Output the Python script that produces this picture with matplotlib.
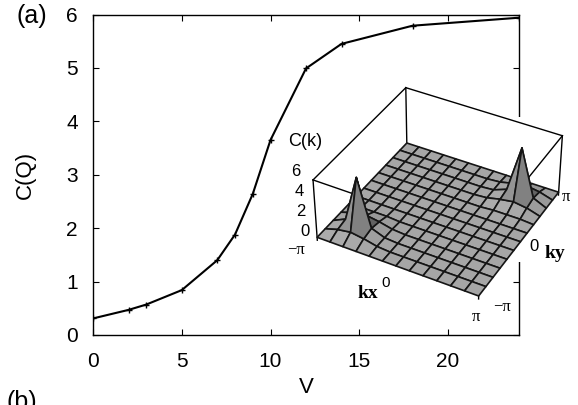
import numpy as np
import matplotlib
matplotlib.use('Agg')
import matplotlib.pyplot as plt
from matplotlib.patches import Rectangle
from mpl_toolkits.mplot3d import proj3d

# ---------------- data ----------------
V = [0, 2, 3, 5, 7, 8, 9, 10, 12, 14, 18, 24]
CQ = [0.31, 0.47, 0.57, 0.84, 1.40, 1.88, 2.64, 3.65, 4.99, 5.45, 5.79, 5.94]
x_ticks = [0, 5, 10, 15, 20]
y_ticks = [0, 1, 2, 3, 4, 5, 6]

# inset: C(k) on a 13x13 k-grid from -pi to pi (rows: kx, columns: ky)
Ck = [
    [0.3, 0.3, 0.3, 0.3, 0.3, 0.3, 0.3, 0.3, 0.3, 0.3, 0.3, 0.3, 0.3],
    [0.3, 0.7, 0.9, 0.7, 0.4, 0.3, 0.3, 0.3, 0.3, 0.3, 0.3, 0.3, 0.3],
    [0.3, 0.9, 5.5, 0.9, 0.4, 0.3, 0.3, 0.3, 0.3, 0.3, 0.3, 0.3, 0.3],
    [0.3, 0.7, 0.9, 0.7, 0.4, 0.3, 0.3, 0.3, 0.3, 0.3, 0.3, 0.3, 0.3],
    [0.3, 0.4, 0.4, 0.4, 0.3, 0.3, 0.3, 0.3, 0.3, 0.3, 0.3, 0.3, 0.3],
    [0.3, 0.3, 0.3, 0.3, 0.3, 0.3, 0.3, 0.3, 0.3, 0.3, 0.3, 0.3, 0.3],
    [0.3, 0.3, 0.3, 0.3, 0.3, 0.3, 0.3, 0.3, 0.3, 0.3, 0.3, 0.3, 0.3],
    [0.3, 0.3, 0.3, 0.3, 0.3, 0.3, 0.3, 0.3, 0.3, 0.3, 0.3, 0.3, 0.3],
    [0.3, 0.3, 0.3, 0.3, 0.3, 0.3, 0.3, 0.3, 0.3, 0.4, 0.4, 0.4, 0.3],
    [0.3, 0.3, 0.3, 0.3, 0.3, 0.3, 0.3, 0.3, 0.4, 0.7, 0.9, 0.7, 0.3],
    [0.3, 0.3, 0.3, 0.3, 0.3, 0.3, 0.3, 0.3, 0.4, 0.9, 5.5, 0.9, 0.3],
    [0.3, 0.3, 0.3, 0.3, 0.3, 0.3, 0.3, 0.3, 0.4, 0.7, 0.9, 0.7, 0.3],
    [0.3, 0.3, 0.3, 0.3, 0.3, 0.3, 0.3, 0.3, 0.3, 0.3, 0.3, 0.3, 0.3],
]
z_ticks = [0, 2, 4, 6]

plt.rcParams['font.family'] = ['Liberation Sans', 'DejaVu Sans']
W, H = 578, 405
fig = plt.figure(figsize=(W / 100, H / 100), dpi=100)


def fx(px):
    return px / W


def fy(py):
    return 1 - py / H


# ---------------- main axes ----------------
ax = fig.add_axes([fx(93), fy(335), (519 - 93) / W, (335 - 14.5) / H])
ax.plot(V, CQ, color='k', lw=1.5, marker='+', ms=4, mew=1)
ax.set_xlim(0, 24)
ax.set_ylim(0, 6)
ax.set_xticks(x_ticks)
ax.set_yticks(y_ticks)
ax.tick_params(direction='in', top=True, right=True, length=4, width=0.8,
               labelsize=15)
ax.tick_params(axis='x', pad=12)
ax.tick_params(axis='y', pad=11)
for s in ax.spines.values():
    s.set_linewidth(1.0)
ax.set_xlabel('V', fontsize=16, va='top')
ax.xaxis.set_label_coords(0.5, -(377 - 335) / 320.5)
ax.set_ylabel('C(Q)', fontsize=16, va='center')
ax.yaxis.set_label_coords(-(93 - 25) / 426, 0.5)
fig.text(fx(16), fy(16), '(a)', fontsize=18, va='center', ha='left')
fig.text(fx(7), fy(390), '(b)', fontsize=18, va='top', ha='left')

# white area where the inset covers the right spine
fig.add_artist(Rectangle((fx(512), fy(262)), 14 / W, (262 - 117) / H,
                         transform=fig.transFigure, fc='white', ec='none',
                         zorder=1))

# ---------------- inset 3D ----------------
ax3 = fig.add_axes([fx(250), fy(340), 320 / W, 320 / H], projection='3d',
                   computed_zorder=False)
ax3.set_zorder(2)
ax3.set_axis_off()
ax3.patch.set_visible(False)
ax3.set_box_aspect((1, 1, 0.42))
pi = np.pi
ax3.set_xlim(-pi, pi)
ax3.set_ylim(-pi, pi)
ax3.set_zlim(0, 6)
ax3.set_proj_type('persp', focal_length=1.0)
ax3.view_init(elev=38, azim=-61.5)

k = np.linspace(-pi, pi, len(Ck))
KX, KY = np.meshgrid(k, k, indexing='ij')
Z = np.array(Ck)

# face shading (light from upper left)
dk = k[1] - k[0]
zfac = (0.42 / 6) / (1 / (2 * pi))
gx = ((Z[1:, :-1] + Z[1:, 1:]) - (Z[:-1, :-1] + Z[:-1, 1:])) / (2 * dk) * zfac
gy = ((Z[:-1, 1:] + Z[1:, 1:]) - (Z[:-1, :-1] + Z[1:, :-1])) / (2 * dk) * zfac
nrm = np.stack([-gx, -gy, np.ones_like(gx)], axis=-1)
nrm /= np.linalg.norm(nrm, axis=-1, keepdims=True)
light = np.array([-0.2, -0.35, 0.91])
light /= np.linalg.norm(light)
dot = np.clip(nrm @ light, 0, None) / light[2]
inten = np.clip(0.6 + 0.4 * dot, 0, 1.1)
gray = 0.65 * inten
fc = np.ones(Z.shape + (4,))
fc[:-1, :-1, 0] = gray
fc[:-1, :-1, 1] = gray
fc[:-1, :-1, 2] = gray

# box edges (drawn under the surface)
edges = [
    ((-pi, -pi, 0), (-pi, -pi, 6)), ((-pi, pi, 0), (-pi, pi, 6)),
    ((pi, pi, 0), (pi, pi, 6)), ((pi, -pi, 0), (pi, -pi, 6)),
    ((-pi, -pi, 6), (-pi, pi, 6)), ((-pi, pi, 6), (pi, pi, 6)),
    ((pi, pi, 6), (pi, -pi, 6)), ((pi, -pi, 6), (-pi, -pi, 6)),
]
for a, b in edges:
    ax3.plot([a[0], b[0]], [a[1], b[1]], [a[2], b[2]], color='k', lw=1.0,
             zorder=0.5)
ax3.plot_surface(KX, KY, Z, facecolors=fc, edgecolor='#151515',
                 linewidth=1.2, shade=False, rstride=1, cstride=1, zorder=1)

# place the inset box where the reference has it
targets = {  # fig px (x, y from top)
    (-pi, -pi, 0): (315.7, 237.3), (pi, -pi, 0): (482, 301.7),
    (pi, pi, 0): (553.7, 188), (-pi, pi, 0): (408, 148),
    (-pi, -pi, 6): (307, 176), (-pi, pi, 6): (408, 95),
    (pi, pi, 6): (561, 135), (pi, -pi, 6): (487, 240),
}
P3 = np.array(list(targets.keys()))
Q = np.array(list(targets.values()))
Q[:, 1] = H - Q[:, 1]

fig.canvas.draw()
M = ax3.get_proj()
xs, ys, _ = proj3d.proj_transform(P3[:, 0], P3[:, 1], P3[:, 2], M)
p = ax3.transData.transform(np.column_stack([xs, ys]))
pm, qm = p.mean(0), Q.mean(0)
s = ((p - pm) * (Q - qm)).sum() / ((p - pm) ** 2).sum()
t = qm - s * pm
pos = ax3.get_position()
o = np.array([pos.x0 * W, pos.y0 * H])
size = pos.width * W
o2 = t + s * o
ax3.set_position([o2[0] / W, o2[1] / H, s * size / W, s * size / H])

# inset labels
fig.text(fx(305), fy(141), 'C(k)', fontsize=13, ha='center', va='center')
zt_pos = {6: (296, 171), 4: (299, 191.5), 2: (301, 211.5), 0: (305, 231.5)}
for zt in z_ticks:
    px, py = zt_pos[zt]
    fig.text(fx(px), fy(py), str(zt), fontsize=12, ha='center', va='center')
ser = ['Liberation Serif', 'DejaVu Serif']
fig.text(fx(296), fy(250), '\u2212\u03c0', fontsize=12, ha='center',
         va='center', family=ser)
fig.text(fx(368), fy(293), 'kx', fontsize=14, ha='center', va='center',
         family=ser, weight='bold')
fig.text(fx(386), fy(283), '0', fontsize=11, ha='center', va='center')
fig.text(fx(476), fy(317), '\u03c0', fontsize=12, ha='center', va='center',
         family=ser)
fig.text(fx(502), fy(307), '\u2212\u03c0', fontsize=12, ha='center',
         va='center', family=ser)
fig.text(fx(534), fy(247), '0', fontsize=12, ha='center', va='center')
fig.text(fx(555), fy(254), 'ky', fontsize=14, ha='center', va='center',
         family=ser, weight='bold')
fig.text(fx(566), fy(197), '\u03c0', fontsize=12, ha='center', va='center',
         family=ser)

fig.savefig('out.png', dpi=100)
